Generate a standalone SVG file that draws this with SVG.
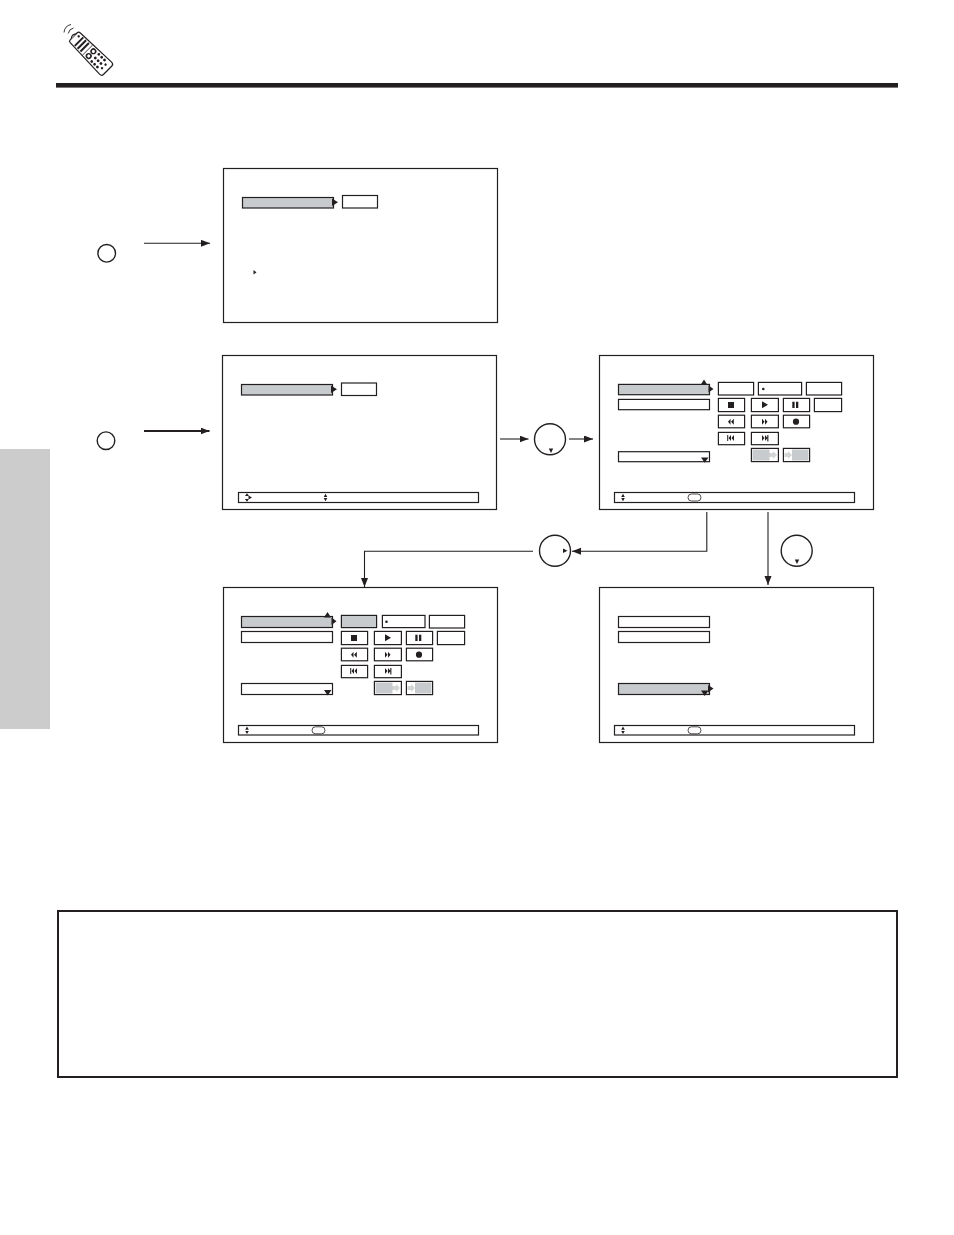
<svg xmlns="http://www.w3.org/2000/svg" width="954" height="1235" viewBox="0 0 954 1235">
<style>
.p{fill:#fff;stroke:#231f20;stroke-width:1.2}
.b{fill:#fff;stroke:#231f20;stroke-width:1.2}
.g{fill:#c8cbcd;stroke:#231f20;stroke-width:1.2}
.k{fill:#231f20;stroke:none}
.l{fill:#c8cbcd;stroke:none}
.c{fill:none;stroke:#231f20;stroke-width:1.1}
.o{fill:#fff;stroke:#231f20;stroke-width:1.4}
</style>
<defs>
<marker id="ah" markerUnits="userSpaceOnUse" markerWidth="10" markerHeight="8" refX="9" refY="3.500" orient="auto"><path d="M0 0L9 3.500L0 7Z" fill="#231f20"/></marker>
<g id="ud"><path class="k" d="M0-3.800L1.800-.6H-1.800ZM0 3.800L1.800 .6H-1.800Z"/></g>
<g id="footer2">
<use href="#ud" x="0" y="0"/>
<rect x="65" y="-3.500" width="13" height="7" rx="3.500" fill="#fff" stroke="#231f20" stroke-width=".8"/>
</g>
<g id="buttons">
<rect class="b" x="806.400" y="382.400" width="35.200" height="12.600"/>
<rect class="b" x="718.400" y="398.400" width="26.200" height="13.200"/>
<rect class="k" x="728" y="402" width="6" height="6"/>
<rect class="b" x="751.400" y="398.400" width="27" height="13.200"/>
<path class="k" d="M762 401.300L768 404.700L762 408.200Z"/>
<rect class="b" x="783.400" y="398.400" width="26.200" height="13.200"/>
<path class="k" d="M792.300 401.800h2.300v6.300h-2.300ZM796 401.800h2.300v6.300H796Z"/>
<rect class="b" x="814.400" y="398.400" width="27.200" height="13.200"/>
<rect class="b" x="718.400" y="415.200" width="26.200" height="12.600"/>
<path class="k" d="M730.500 418.700L728 421.700L730.500 424.700ZM733.800 418.700L731 421.700L733.800 424.700Z"/>
<rect class="b" x="751.400" y="415.200" width="27" height="12.600"/>
<path class="k" d="M762 418.700L764.500 421.700L762 424.700ZM765 418.700L767.500 421.700L765 424.700Z"/>
<rect class="b" x="783.400" y="415.200" width="26.200" height="12.600"/>
<circle class="k" cx="796" cy="421.700" r="3.100"/>
<rect class="b" x="718.400" y="432.400" width="26.200" height="12.300"/>
<path class="k" d="M727.200 435h1v6h-1ZM731 435L728.500 438L731 441ZM734 435L731.500 438L734 441Z"/>
<rect class="b" x="751.400" y="432.400" width="27" height="12.300"/>
<path class="k" d="M762 435L764.500 438L762 441ZM765 435L767.500 438L765 441ZM767.300 435h1.100v6.500h-1.100Z"/>
<rect class="b" x="751.400" y="448.400" width="27" height="13.200"/>
<rect class="l" x="752.500" y="449.500" width="17" height="11"/>
<path class="l" d="M769 453h4v-2l4 4-4 4v-2h-4Z" opacity=".8"/>
<rect class="b" x="783.400" y="448.400" width="26.200" height="13.200"/>
<rect class="l" x="792" y="449.500" width="16.500" height="11"/>
<path class="l" d="M784.500 453h3.500v-2l4 4-4 4v-2h-3.500Z" opacity=".8"/>
</g>
</defs>

<rect id="side-tab" x="0" y="449" width="50" height="280" fill="#cccccc"/>

<g id="header">
<rect x="56" y="83" width="842" height="4.600" fill="#231f20"/>
<g id="remote" transform="translate(90.700 53.300) rotate(45)">
<path d="M-24-5Q-24-7-22-7L21-8.500Q24-8.500 24-6V6Q24 8.500 21 8.500L-22 7Q-24 7-24 5Z" fill="#fff" stroke="#231f20" stroke-width="1.200"/>
<path d="M-24-3.500Q-27 0-24 3.500" fill="#fff" stroke="#231f20" stroke-width="1.100"/>
<circle class="k" cx="-20.500" cy="-3.500" r="1.200"/>
<path d="M-16.500-6V6M-12.500-6V6M-8.500-6V6" stroke="#231f20" stroke-width="2" fill="none"/>
<path d="M-4.500-7.500V7.500" stroke="#231f20" stroke-width=".8" fill="none"/>
<circle cx="0.500" cy="-3.300" r="2.300" fill="none" stroke="#231f20" stroke-width="1.500"/>
<circle cx="0.500" cy="3.300" r="2.300" fill="none" stroke="#231f20" stroke-width="1.500"/>
<g class="k"><circle cx="6.500" cy="-5" r="1.400"/><circle cx="6.500" cy="0" r="1.400"/><circle cx="6.500" cy="5" r="1.400"/><circle cx="10.500" cy="-5" r="1.400"/><circle cx="10.500" cy="0" r="1.400"/><circle cx="10.500" cy="5" r="1.400"/><circle cx="14.500" cy="-5" r="1.400"/><circle cx="14.500" cy="0" r="1.400"/><circle cx="14.500" cy="5" r="1.400"/><circle cx="18.500" cy="-2.500" r="1.200"/><circle cx="18.500" cy="2.500" r="1.200"/></g>
</g>
<path d="M71 24.500Q64.500 26 64 32.500M73.500 28Q69 29 68.300 33.500" fill="none" stroke="#231f20" stroke-width=".9"/>
</g>

<g id="step-1"><circle class="o" cx="106.700" cy="253.300" r="8.800"/></g>
<g id="step-2"><circle class="o" cx="106" cy="440.700" r="8.800"/></g>

<g id="panel-a">
<rect class="p" x="223.500" y="168.500" width="274" height="154"/>
<rect class="g" x="242.500" y="197.500" width="91" height="10.500"/>
<path class="k" d="M332 198.500L338 202.300L332 206Z"/>
<rect class="b" x="342.500" y="195.500" width="35" height="12.500"/>
<path class="k" d="M253.500 270L256.500 272.300L253.500 274.500Z"/>
</g>

<g id="panel-b">
<rect class="p" x="222.500" y="355.500" width="274" height="154"/>
<rect class="g" x="241.500" y="384.500" width="91" height="10.500"/>
<path class="k" d="M331 385.500L337 389.300L331 393Z"/>
<rect class="b" x="341.500" y="383" width="35" height="12.500"/>
<rect class="b" x="238.500" y="492.500" width="240" height="10"/>
<path class="k" d="M247 493.300L249 496H245ZM247 501.800L249 499H245ZM248.500 495.500L252 497.500L248.500 499.500Z"/>
<use href="#ud" x="325.500" y="497.500"/>
</g>

<g id="panel-c">
<rect class="p" x="599.500" y="355.500" width="274" height="154"/>
<rect class="g" x="618.500" y="384.400" width="91" height="10.300"/>
<rect class="b" x="618.500" y="399.400" width="91" height="10.300"/>
<rect class="b" x="618.500" y="451.700" width="91" height="10"/>
<path class="k" d="M704 379.500L707.500 385H700.500ZM708.500 385.500L713.500 389L708.500 392.500ZM701 457.500H708.500L704.700 462.800Z"/>
<rect class="b" x="718.400" y="382.400" width="35.200" height="12.600"/>
<rect class="b" x="758.400" y="382.400" width="43.200" height="12.600"/>
<circle class="k" cx="763.300" cy="389" r="1.300"/>
<use href="#buttons"/>
<rect class="b" x="614.500" y="492.500" width="240" height="10"/>
<use href="#footer2" x="623" y="497.500"/>
</g>

<g id="panel-d">
<rect class="p" x="223.500" y="587.500" width="274" height="155"/>
<rect class="g" x="241.500" y="616.500" width="91" height="11"/>
<rect class="b" x="241.500" y="631.500" width="91" height="11"/>
<rect class="b" x="241.500" y="683.500" width="91" height="11"/>
<path class="k" d="M327.500 612L331 617.500H324ZM331.500 617.500L336.500 621.300L331.500 625ZM324 690H331.500L327.700 695.500Z"/>
<rect class="g" x="341.400" y="615.400" width="35.200" height="12.200"/>
<rect class="b" x="382.400" y="615.400" width="42.600" height="12.200"/>
<circle class="k" cx="386.500" cy="621.800" r="1.300"/>
<use href="#buttons" x="-377" y="233"/>
<rect class="b" x="238.500" y="725.500" width="240" height="9.500"/>
<use href="#footer2" x="247" y="730.300"/>
</g>

<g id="panel-e">
<rect class="p" x="599.500" y="587.500" width="274" height="155"/>
<rect class="b" x="618.500" y="616.500" width="91" height="11"/>
<rect class="b" x="618.500" y="631.500" width="91" height="11"/>
<rect class="g" x="618.500" y="683.500" width="91" height="11"/>
<path class="k" d="M708 685L713.500 688.500L708 692.500ZM701 690.500H708.500L704.700 696Z"/>
<rect class="b" x="614.500" y="725.500" width="240" height="9.500"/>
<use href="#footer2" x="623" y="730.300"/>
</g>

<g id="button-down-1">
<circle class="o" cx="550" cy="439.300" r="15.500"/>
<path class="k" d="M548.800 448.500H553.200L551 453Z"/>
</g>
<g id="button-right">
<circle class="o" cx="555" cy="550.700" r="15.500"/>
<path class="k" d="M563 548.500L567.500 550.700L563 553Z"/>
</g>
<g id="button-down-2">
<circle class="o" cx="796.700" cy="550.700" r="15.500"/>
<path class="k" d="M794.800 559.500H799.200L797 564Z"/>
</g>

<g id="connectors">
<path class="c" d="M144 243.300H210" marker-end="url(#ah)"/>
<path class="c" d="M144 431H209.500" style="stroke-width:2" marker-end="url(#ah)"/>
<path class="c" d="M500 439H528.500" marker-end="url(#ah)"/>
<path class="c" d="M569 439H593" marker-end="url(#ah)"/>
<path class="c" d="M706.800 512V551.300H572" marker-end="url(#ah)"/>
<path class="c" d="M533 551.300H364.500V587" marker-end="url(#ah)"/>
<path class="c" d="M768 512V585" marker-end="url(#ah)"/>
</g>

<rect id="note-box" x="58" y="911" width="839" height="166" fill="#fff" stroke="#231f20" stroke-width="2"/>
</svg>
